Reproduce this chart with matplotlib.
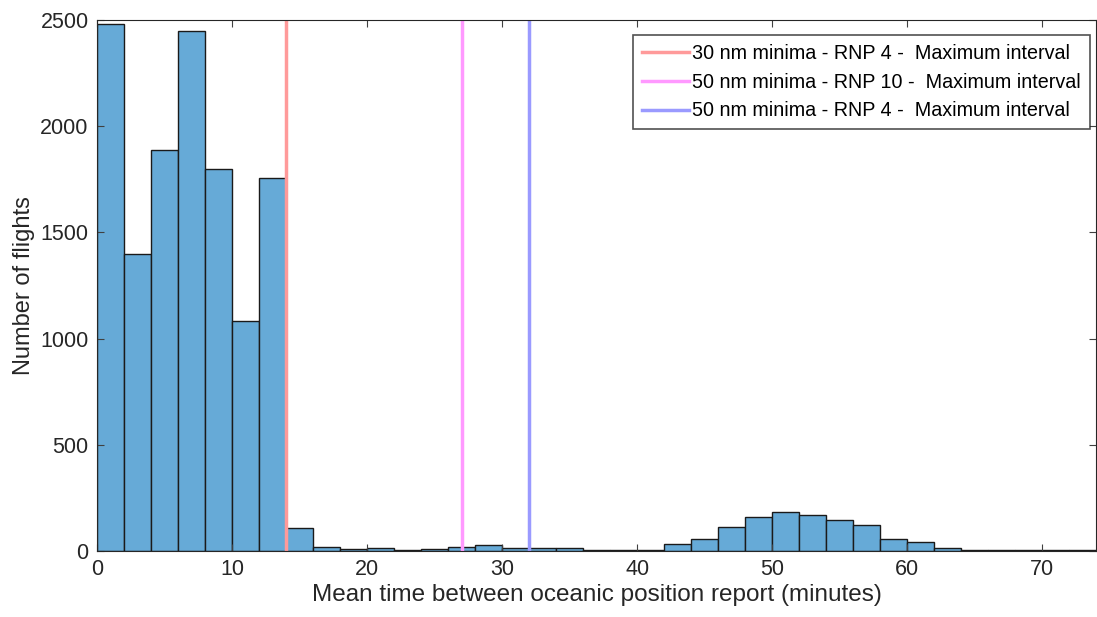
import numpy as np
import matplotlib.pyplot as plt

# Histogram bins (2-minute width) and counts
bin_edges = np.arange(0, 76, 2)
counts = [2480, 1400, 1890, 2450, 1800, 1085, 1755, 110, 20, 8,
          13, 5, 10, 20, 28, 12, 12, 12, 5, 5,
          5, 33, 56, 115, 160, 185, 168, 147, 124, 58,
          41, 13, 5, 3, 3, 3, 3]

line_positions = [14, 27, 32]
line_labels = ["30 nm minima - RNP 4 -  Maximum interval",
               "50 nm minima - RNP 10 -  Maximum interval",
               "50 nm minima - RNP 4 -  Maximum interval"]
line_colors = ["#ff9a9a", "#ff99ff", "#9a9aff"]

plt.rcParams["font.family"] = ["Liberation Sans", "DejaVu Sans"]

fig = plt.figure(figsize=(10.97, 6.17), dpi=100)
ax = fig.add_axes([0.0884, 0.107, 0.911, 0.8606])

ax.bar(bin_edges[:-1], counts, width=2, align="edge",
       color="#66aad7", edgecolor="#1a1a1a", linewidth=1.0)

for pos, lab, col in zip(line_positions, line_labels, line_colors):
    ax.axvline(pos, color=col, linewidth=2.5, label=lab)

ax.set_xlim(0, 74)
ax.set_ylim(0, 2500)
ax.set_xticks(np.arange(0, 71, 10))
ax.set_yticks(np.arange(0, 2501, 500))
ax.tick_params(direction="in", top=True, right=True, length=5, pad=6,
               labelsize=15.5, colors="#404040", labelcolor="#262626")
for side in ax.spines.values():
    side.set_color("#262626")

ax.set_xlabel("Mean time between oceanic position report (minutes)",
              fontsize=17.5, color="#262626", labelpad=3)
ax.set_ylabel("Number of flights", fontsize=17, color="#262626", labelpad=4)

leg = ax.legend(loc="upper right", fontsize=14.2, frameon=True, fancybox=False,
                handlelength=2.4, handletextpad=0.15, borderpad=0.45,
                labelspacing=0.5, borderaxespad=0,
                bbox_to_anchor=(0.9935, 0.972))
leg.get_frame().set_edgecolor("#262626")
leg.get_frame().set_linewidth(1.2)

fig.savefig("out.png", dpi=100)
